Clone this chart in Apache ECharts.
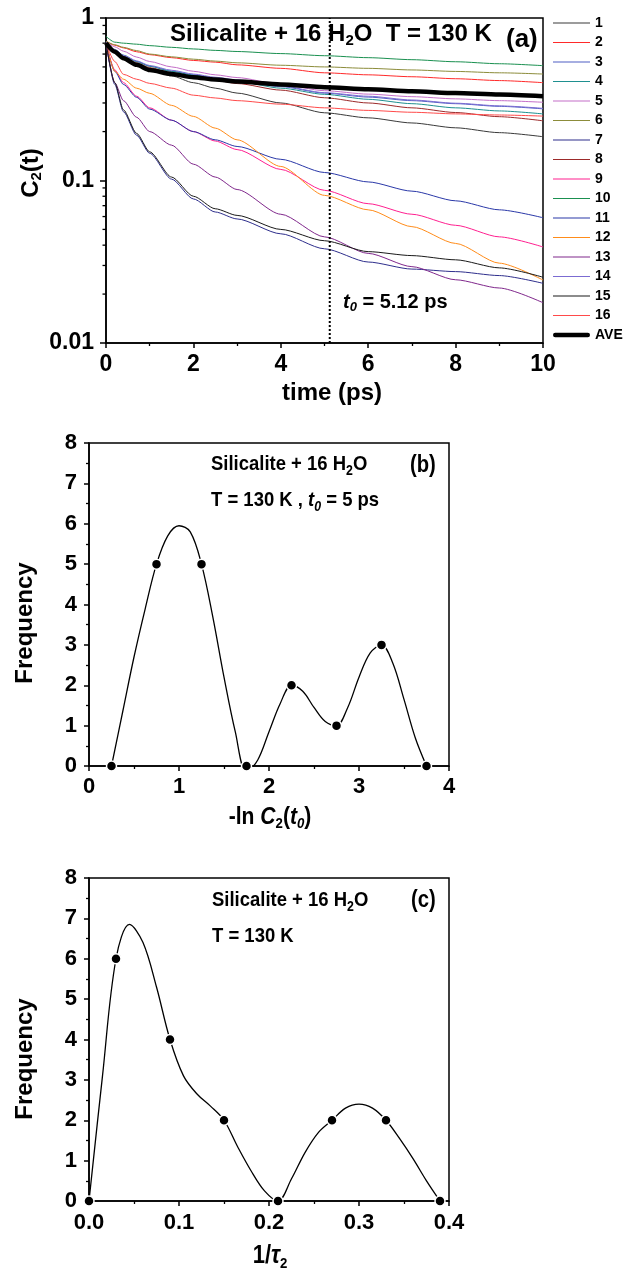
<!DOCTYPE html>
<html><head><meta charset="utf-8">
<script src="https://cdn.jsdelivr.net/npm/echarts@6/dist/echarts.min.js"></script>
<style>html,body{margin:0;padding:0;background:#fff}#c{width:636px;height:1277px}</style>
</head><body><div id="c"></div>
<script>
// ---------- Panel (a) data ----------
const times = [0, 0.2, 0.4, 0.7, 1, 1.5, 2, 2.5, 3, 4, 5, 6, 7, 8, 9, 10];
const c1  = [0.70, 0.62, 0.56, 0.505, 0.48, 0.44, 0.40, 0.37, 0.345, 0.30, 0.261, 0.243, 0.226, 0.211, 0.197, 0.186];
const c2  = [0.72, 0.68, 0.655, 0.62, 0.595, 0.57, 0.548, 0.535, 0.515, 0.49, 0.46, 0.447, 0.435, 0.423, 0.412, 0.40];
const c3  = [0.71, 0.63, 0.585, 0.54, 0.505, 0.47, 0.447, 0.427, 0.41, 0.378, 0.345, 0.326, 0.31, 0.297, 0.286, 0.276];
const c4  = [0.72, 0.64, 0.59, 0.54, 0.505, 0.47, 0.445, 0.425, 0.408, 0.37, 0.339, 0.316, 0.297, 0.28, 0.268, 0.257];
const c5  = [0.72, 0.665, 0.625, 0.575, 0.54, 0.50, 0.47, 0.447, 0.43, 0.39, 0.357, 0.34, 0.328, 0.318, 0.31, 0.303];
const c6  = [0.72, 0.685, 0.66, 0.63, 0.60, 0.577, 0.558, 0.543, 0.53, 0.512, 0.50, 0.49, 0.479, 0.469, 0.46, 0.452];
const c7  = [0.70, 0.39, 0.265, 0.19, 0.147, 0.102, 0.077, 0.064, 0.058, 0.047, 0.038, 0.0315, 0.0285, 0.0275, 0.026, 0.0233];
const c8  = [0.71, 0.63, 0.58, 0.53, 0.495, 0.46, 0.435, 0.415, 0.395, 0.36, 0.323, 0.30, 0.28, 0.262, 0.247, 0.233];
const c9  = [0.70, 0.48, 0.40, 0.33, 0.28, 0.235, 0.20, 0.175, 0.155, 0.117, 0.087, 0.072, 0.062, 0.053, 0.045, 0.039];
const c10 = [0.77, 0.71, 0.70, 0.69, 0.676, 0.66, 0.645, 0.632, 0.622, 0.604, 0.586, 0.57, 0.554, 0.538, 0.523, 0.509];
const c11 = [0.70, 0.47, 0.39, 0.325, 0.275, 0.235, 0.20, 0.178, 0.162, 0.135, 0.112, 0.098, 0.086, 0.075, 0.066, 0.059];
const c12 = [0.70, 0.47, 0.42, 0.37, 0.344, 0.29, 0.248, 0.21, 0.178, 0.122, 0.081, 0.066, 0.052, 0.041, 0.031, 0.0244];
const c13 = [0.70, 0.40, 0.31, 0.245, 0.20, 0.165, 0.126, 0.105, 0.088, 0.062, 0.045, 0.0356, 0.0295, 0.0245, 0.0218, 0.0177];
const c14 = [0.71, 0.64, 0.59, 0.545, 0.51, 0.477, 0.452, 0.432, 0.416, 0.382, 0.347, 0.33, 0.313, 0.299, 0.288, 0.278];
const c15 = [0.70, 0.40, 0.272, 0.195, 0.15, 0.105, 0.08, 0.067, 0.061, 0.05, 0.0426, 0.0365, 0.0345, 0.0325, 0.029, 0.0254];
const c16 = [0.70, 0.54, 0.45, 0.42, 0.396, 0.37, 0.335, 0.322, 0.31, 0.295, 0.28, 0.27, 0.263, 0.257, 0.253, 0.249];
const ave = [0.70, 0.62, 0.565, 0.515, 0.479, 0.452, 0.432, 0.418, 0.406, 0.39, 0.375, 0.364, 0.354, 0.345, 0.338, 0.33];
const curvesA = [c1, c2, c3, c4, c5, c6, c7, c8, c9, c10, c11, c12, c13, c14, c15, c16];
const namesA = ['1','2','3','4','5','6','7','8','9','10','11','12','13','14','15','16'];
const colorsA = ['#3a3a3a','#ff2a2a','#4f5fc4','#1f9090','#c46ec8','#8c8c3a','#2e2e8c','#9c2a2a',
                 '#ff2090','#1a9050','#2a38a8','#ff8c1a','#80288c','#7b6bd2','#1a1a1a','#ff4a4a'];
const t0 = 5.12;
const yTicksA = [0.01, 0.1, 1];
const logMinorTicks = [0.02,0.03,0.04,0.05,0.06,0.07,0.08,0.09,0.2,0.3,0.4,0.5,0.6,0.7,0.8,0.9];

// ---------- Panel (b) data ----------
const bX = [0.25, 0.75, 1.25, 1.75, 2.25, 2.75, 3.25, 3.75];
const bFreq = [0, 5, 5, 0, 2, 1, 3, 0];
const bCurveX = [0.25,0.375,0.5,0.625,0.75,0.875,1.0,1.125,1.25,1.375,1.5,1.625,1.75,1.875,2.0,2.125,2.25,2.375,2.5,2.625,2.75,2.875,3.0,3.125,3.25,3.375,3.5,3.625,3.75];
const bCurveY = [0,1.35,2.7,3.9,5.0,5.7,5.95,5.8,5.0,3.7,2.2,0.85,-0.15,0.15,0.85,1.55,2.0,1.85,1.45,1.1,1.0,1.45,2.2,2.8,3.0,2.55,1.65,0.7,0];

// ---------- Panel (c) data ----------
const cX = [0, 0.03, 0.09, 0.15, 0.21, 0.27, 0.33, 0.39];
const cFreq = [0, 6, 4, 2, 0, 2, 2, 0];
const cCurveX = [0,0.015,0.03,0.045,0.06,0.075,0.09,0.105,0.12,0.135,0.15,0.165,0.18,0.195,0.21,0.225,0.24,0.255,0.27,0.285,0.30,0.315,0.33,0.345,0.36,0.375,0.39];
const cCurveY = [0,3.1,6.0,6.85,6.4,5.3,4.0,3.1,2.65,2.35,2.0,1.35,0.75,0.25,0,0.55,1.2,1.7,2.0,2.3,2.4,2.3,2.0,1.55,1.05,0.5,0];

// ---------- helpers ----------
const FONT = '"Liberation Sans", Arial, Helvetica, sans-serif';
const mctx = document.createElement('canvas').getContext('2d');
function fontStr(size, italic) { return (italic ? 'italic ' : '') + 'bold ' + size + 'px ' + FONT; }
function tw(text, size, italic) { mctx.font = fontStr(size, italic); return mctx.measureText(text).width; }
function textRun(parts, x, y, opt) {
  opt = opt || {};
  const sc = opt.scaleX || 1;
  const widths = parts.map(p => tw(p.t, p.s, p.i) * sc);
  const total = widths.reduce((a, b) => a + b, 0);
  let off = opt.align === 'center' ? -total / 2 : 0;
  const els = [];
  parts.forEach((p, k) => {
    const dy = p.sub ? p.sub : 0;
    let px, py;
    if (opt.vertical) { px = x + dy; py = y - off; } else { px = x + off; py = y + dy; }
    els.push({
      type: 'text', x: px, y: py, rotation: opt.vertical ? Math.PI / 2 : 0,
      scaleX: sc, scaleY: 1, silent: true, z: 100,
      style: { text: p.t, fill: '#000', font: fontStr(p.s, p.i),
               textAlign: 'left', textVerticalAlign: 'middle', align: 'left', verticalAlign: 'middle' }
    });
    off += widths[k];
  });
  return els;
}

const axisLineS = { show: true, lineStyle: { color: '#000', width: 1.5 } };
function labelS(size, margin, fmt) {
  const o = { color: '#000', fontSize: size, fontWeight: 'bold', fontFamily: FONT, margin: margin };
  if (fmt) o.formatter = fmt;
  return o;
}

// ---------- series ----------
const series = [];
curvesA.forEach((arr, i) => {
  series.push({
    type: 'line', name: namesA[i], xAxisIndex: 0, yAxisIndex: 0,
    data: times.map((t, j) => [t, arr[j]]),
    symbol: 'none', showSymbol: false, smooth: 0.25, smoothMonotone: 'x',
    lineStyle: { width: 1, color: colorsA[i] }, itemStyle: { color: colorsA[i] },
    emphasis: { disabled: true }, z: 3
  });
});
series.push({
  type: 'line', name: 'AVE', xAxisIndex: 0, yAxisIndex: 0,
  data: times.map((t, j) => [t, ave[j]]),
  symbol: 'none', showSymbol: false, smooth: 0.25, smoothMonotone: 'x',
  lineStyle: { width: 4.5, color: '#000' }, itemStyle: { color: '#000' }, z: 4
});
series.push({
  type: 'line', name: 't0line', xAxisIndex: 0, yAxisIndex: 0,
  data: [[t0, yTicksA[0]], [t0, yTicksA[2]]],
  symbol: 'none', lineStyle: { width: 2, color: '#000', type: [2, 2] }, z: 5
});
series.push({
  type: 'custom', name: 'logminor', xAxisIndex: 0, yAxisIndex: 0, silent: true, clip: false,
  data: logMinorTicks.map(v => [0, v]),
  renderItem: function (params, api) {
    const p = api.coord([api.value(0), api.value(1)]);
    return { type: 'line', shape: { x1: p[0] - 3.5, y1: p[1], x2: p[0], y2: p[1] },
             style: { stroke: '#000', lineWidth: 1.3 } };
  }, z: 6
});
series.push({
  type: 'line', name: 'bcurve', xAxisIndex: 1, yAxisIndex: 1,
  data: bCurveX.map((x, j) => [x, bCurveY[j]]),
  symbol: 'none', smooth: 0.35, lineStyle: { width: 1.3, color: '#000' }, z: 3
});
series.push({
  type: 'scatter', name: 'bpts', xAxisIndex: 1, yAxisIndex: 1,
  data: bX.map((x, j) => [x, bFreq[j]]), symbolSize: 10, clip: false,
  itemStyle: { color: '#000', opacity: 1, borderColor: '#fff', borderWidth: 1.5 }, z: 4
});
series.push({
  type: 'line', name: 'ccurve', xAxisIndex: 2, yAxisIndex: 2,
  data: cCurveX.map((x, j) => [x, cCurveY[j]]),
  symbol: 'none', smooth: 0.35, lineStyle: { width: 1.3, color: '#000' }, z: 3
});
series.push({
  type: 'scatter', name: 'cpts', xAxisIndex: 2, yAxisIndex: 2,
  data: cX.map((x, j) => [x, cFreq[j]]), symbolSize: 10, clip: false,
  itemStyle: { color: '#000', opacity: 1, borderColor: '#fff', borderWidth: 1.5 }, z: 4
});

// ---------- legend icons (plain line strokes) ----------
const thinIcon = 'path://M0,0 M37,12 M0,5.4 L37,5.4 L37,6.6 L0,6.6 Z';
const thickIcon = 'path://M0,0 M37,12 M2.2,3.8 L34.8,3.8 A2.2,2.2 0 0 1 34.8,8.2 L2.2,8.2 A2.2,2.2 0 0 1 2.2,3.8 Z';
const legendData = namesA.map(n => ({ name: n, icon: thinIcon })).concat([{ name: 'AVE', icon: thickIcon }]);

// ---------- texts ----------
const S = 0.88;
let graphics = [];
graphics = graphics.concat(
  textRun([{t:'Silicalite + 16 H', s:24}, {t:'2', s:15, sub:7}, {t:'O  T = 130 K', s:24}], 170, 34),
  textRun([{t:'(a)', s:26}], 506, 40),
  textRun([{t:'t', s:20, i:true}, {t:'0', s:13, i:true, sub:5}, {t:' = 5.12 ps', s:20}], 343, 302),
  textRun([{t:'time (ps)', s:24}], 332, 393, {align:'center'}),
  textRun([{t:'C', s:24}, {t:'2', s:15, sub:6}, {t:'(t)', s:24}], 31, 173, {align:'center', vertical:true}),
  textRun([{t:'Silicalite + 16 H', s:21}, {t:'2', s:14, sub:7}, {t:'O', s:21}], 211, 464, {scaleX:S}),
  textRun([{t:'T = 130 K , ', s:21}, {t:'t', s:21, i:true}, {t:'0', s:14, i:true, sub:7}, {t:' = 5 ps', s:21}], 211, 500, {scaleX:S}),
  textRun([{t:'(b)', s:23}], 410, 466, {scaleX:S}),
  textRun([{t:'Frequency', s:24}], 25, 623, {align:'center', vertical:true}),
  textRun([{t:'-ln ', s:24}, {t:'C', s:24, i:true}, {t:'2', s:15, sub:7}, {t:'(', s:24}, {t:'t', s:24, i:true}, {t:'0', s:15, i:true, sub:7}, {t:')', s:24}], 270, 817, {align:'center', scaleX:S}),
  textRun([{t:'Silicalite + 16 H', s:21}, {t:'2', s:14, sub:7}, {t:'O', s:21}], 212, 900, {scaleX:S}),
  textRun([{t:'T = 130 K', s:21}], 212, 936, {scaleX:S}),
  textRun([{t:'(c)', s:23}], 411, 901, {scaleX:S}),
  textRun([{t:'Frequency', s:24}], 25, 1059, {align:'center', vertical:true}),
  textRun([{t:'1/', s:25}, {t:'\u03c4', s:25, i:true}, {t:'2', s:15, sub:8}], 270, 1256, {align:'center', scaleX:S})
);

const option = {
  animation: false,
  backgroundColor: '#fff',
  textStyle: { fontFamily: FONT },
  grid: [
    { left: 106, top: 18, width: 437, height: 325, show: true, borderColor: '#000', borderWidth: 1.5, backgroundColor: 'transparent' },
    { left: 89, top: 443, width: 360, height: 323, show: true, borderColor: '#000', borderWidth: 1.5, backgroundColor: 'transparent' },
    { left: 89, top: 878, width: 360, height: 323, show: true, borderColor: '#000', borderWidth: 1.5, backgroundColor: 'transparent' }
  ],
  xAxis: [
    { type: 'value', gridIndex: 0, min: 0, max: 10, interval: 2,
      axisLine: axisLineS, axisTick: { show: true, length: 5, lineStyle: { color: '#000', width: 1.5 } },
      minorTick: { show: true, splitNumber: 2, length: 3, lineStyle: { color: '#000', width: 1.3 } },
      splitLine: { show: false }, axisLabel: labelS(23, 10) },
    { type: 'value', gridIndex: 1, min: 0, max: 4, interval: 1,
      axisLine: axisLineS, axisTick: { show: true, length: 5, lineStyle: { color: '#000', width: 1.5 } },
      minorTick: { show: true, splitNumber: 2, length: 3, lineStyle: { color: '#000', width: 1.3 } },
      splitLine: { show: false }, axisLabel: labelS(22, 10) },
    { type: 'value', gridIndex: 2, min: 0, max: 0.4, interval: 0.1,
      axisLine: axisLineS, axisTick: { show: true, length: 5, lineStyle: { color: '#000', width: 1.5 } },
      minorTick: { show: true, splitNumber: 2, length: 3, lineStyle: { color: '#000', width: 1.3 } },
      splitLine: { show: false }, axisLabel: labelS(22, 11, v => v.toFixed(1)) }
  ],
  yAxis: [
    { type: 'log', gridIndex: 0, min: yTicksA[0], max: yTicksA[2], logBase: 10,
      axisLine: axisLineS, axisTick: { show: true, length: 6, lineStyle: { color: '#000', width: 1.5 } },
      splitLine: { show: false }, axisLabel: labelS(23, 12, v => String(Number(v.toPrecision(3)))) },
    { type: 'value', gridIndex: 1, min: 0, max: 8, interval: 1,
      axisLine: axisLineS, axisTick: { show: true, length: 5, lineStyle: { color: '#000', width: 1.5 } },
      minorTick: { show: true, splitNumber: 2, length: 3, lineStyle: { color: '#000', width: 1.3 } },
      splitLine: { show: false }, axisLabel: labelS(22, 12) },
    { type: 'value', gridIndex: 2, min: 0, max: 8, interval: 1,
      axisLine: axisLineS, axisTick: { show: true, length: 5, lineStyle: { color: '#000', width: 1.5 } },
      minorTick: { show: true, splitNumber: 2, length: 3, lineStyle: { color: '#000', width: 1.3 } },
      splitLine: { show: false }, axisLabel: labelS(22, 12) }
  ],
  legend: {
    data: legendData, orient: 'vertical', left: 553, top: 16,
    itemWidth: 37, itemHeight: 12, itemGap: 5.5, padding: 0,
    textStyle: { fontSize: 14, fontWeight: 'bold', fontFamily: FONT, color: '#000' },
    selectedMode: false
  },
  graphic: graphics,
  series: series
};
const chart = echarts.init(document.getElementById('c'), null, { renderer: 'canvas' });
chart.setOption(option);
</script>
</body></html>
